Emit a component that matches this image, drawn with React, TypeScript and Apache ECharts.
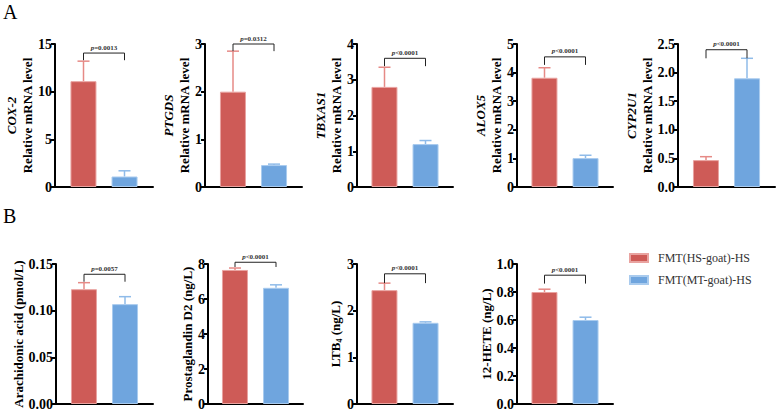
import React, { useEffect, useRef } from "react";
import * as echarts from "echarts";

const FONT = "'Liberation Serif', 'Times New Roman', serif";

const groups = ["FMT(HS-goat)-HS", "FMT(MT-goat)-HS"];

// Row A: relative mRNA levels
const genes = ["COX-2", "PTGDS", "TBXAS1", "ALOX5", "CYP2U1"];
const hsMeanA = [11.1, 2.0, 2.8, 3.82, 0.47];
const hsErrA = [2.1, 0.85, 0.55, 0.35, 0.06];
const mtMeanA = [1.1, 0.46, 1.2, 1.01, 1.9];
const mtErrA = [0.6, 0.02, 0.1, 0.1, 0.35];
const yMaxA = [15, 3, 4, 5, 2.5];
const yStepA = [5, 1, 1, 1, 0.5];
const yDecA = [0, 0, 0, 0, 1];
const pTextA = ["=0.0013", "=0.0312", "<0.0001", "<0.0001", "<0.0001"];
const bracketTopA = [14.05, 3.0, 3.6, 4.55, 2.4];
const bracketLegA = [13.3, 2.85, 3.38, 4.27, 2.25];

// Row B: metabolite concentrations
const metabolites = ["Arachidonic acid (pmol/L)", "Prostaglandin D2 (ng/L)", "LTB4 (ng/L)", "12-HETE (ng/L)"];
const hsMeanB = [0.123, 7.66, 2.44, 0.8];
const hsErrB = [0.007, 0.11, 0.15, 0.02];
const mtMeanB = [0.107, 6.64, 1.74, 0.6];
const mtErrB = [0.008, 0.17, 0.02, 0.02];
const yMaxB = [0.15, 8, 3, 1.0];
const yStepB = [0.05, 2, 1, 0.2];
const yDecB = [2, 0, 0, 1];
const pTextB = ["=0.0057", "<0.0001", "<0.0001", "<0.0001"];
const bracketTopB = [0.139, 8.1, 2.79, 0.92];
const bracketLegB = [0.131, 7.83, 2.59, 0.86];

const RED = "#CE5B57";
const BLUE = "#6FA5DE";
const RED_LIGHT = "#E68A86";
const BLUE_LIGHT = "#8FBBE9";
const OFFSET = 20.5;

export default function App() {
  const ref = useRef<HTMLDivElement>(null);

  useEffect(() => {
    if (!ref.current) return;
    const chart = echarts.init(ref.current, null, { renderer: "svg" });

    type Panel = {
      name: string;
      hs: number; hsErr: number; mt: number; mtErr: number;
      max: number; step: number; dec: number; p: string;
      bTop: number; bLeg: number;
      left: number; top: number; width: number; height: number; nameGap: number;
    };

    const panels: Panel[] = [];
    const leftA = [55, 205, 357, 517, 678];
    const widthA = [98, 97, 96, 96, 97];
    const gapA = [12, 6, 10, 12, 23];
    genes.forEach((g, i) => {
      panels.push({
        name: `{g|${g}}\n{n|Relative mRNA level}`,
        hs: hsMeanA[i], hsErr: hsErrA[i], mt: mtMeanA[i], mtErr: mtErrA[i],
        max: yMaxA[i], step: yStepA[i], dec: yDecA[i], p: pTextA[i],
        bTop: bracketTopA[i], bLeg: bracketLegA[i],
        left: leftA[i], top: 44, width: widthA[i], height: 143, nameGap: gapA[i],
      });
    });
    const leftB = [56, 208, 357, 517];
    const widthB = [97, 95, 96, 96];
    const gapB = [28, 10, 14, 22];
    metabolites.forEach((m, i) => {
      const nm = m.startsWith("LTB4")
        ? `{n|LTB}{sub|4}{n|${m.slice(4)}}`
        : `{n|${m}}`;
      panels.push({
        name: nm,
        hs: hsMeanB[i], hsErr: hsErrB[i], mt: mtMeanB[i], mtErr: mtErrB[i],
        max: yMaxB[i], step: yStepB[i], dec: yDecB[i], p: pTextB[i],
        bTop: bracketTopB[i], bLeg: bracketLegB[i],
        left: leftB[i], top: 264, width: widthB[i], height: 140, nameGap: gapB[i],
      });
    });

    const grid: any[] = [];
    const xAxis: any[] = [];
    const yAxis: any[] = [];
    const series: any[] = [];

    const errRender = (sign: number, color: string) => (params: any, api: any) => {
      const x = api.value(0);
      const m = api.value(1);
      const e = api.value(2);
      const p0 = api.coord([x, m]);
      const p1 = api.coord([x, m + e]);
      const cx = p0[0] + sign * OFFSET;
      return {
        type: "group",
        children: [
          { type: "line", shape: { x1: cx, y1: p0[1], x2: cx, y2: p1[1] }, style: { stroke: color, lineWidth: 1.5 } },
          { type: "line", shape: { x1: cx - 6, y1: p1[1], x2: cx + 6, y2: p1[1] }, style: { stroke: color, lineWidth: 1.5 } },
        ],
      };
    };

    panels.forEach((pn, i) => {
      grid.push({ left: pn.left, top: pn.top, width: pn.width, height: pn.height });
      xAxis.push({
        type: "category", gridIndex: i, data: [""],
        axisLine: { lineStyle: { color: "#000", width: 2 } },
        axisTick: { show: false }, axisLabel: { show: false },
      });
      yAxis.push({
        type: "value", gridIndex: i, min: 0, max: pn.max, interval: pn.step,
        splitLine: { show: false },
        axisLine: { show: true, lineStyle: { color: "#000", width: 2 } },
        axisTick: { show: true, length: 4, lineStyle: { color: "#000", width: 2 } },
        axisLabel: {
          margin: 3, color: "#000", fontFamily: FONT, fontWeight: "bold", fontSize: 14,
          formatter: (v: number) => v.toFixed(pn.dec),
        },
        name: pn.name, nameLocation: "middle", nameRotate: 90, nameGap: pn.nameGap,
        nameTextStyle: {
          fontFamily: FONT,
          rich: {
            g: { fontFamily: FONT, fontStyle: "italic", fontWeight: "bold", fontSize: 13, lineHeight: 16, color: "#000" },
            n: { fontFamily: FONT, fontWeight: "bold", fontSize: 13, lineHeight: 16, color: "#000" },
            sub: { fontFamily: FONT, fontWeight: "bold", fontSize: 8, lineHeight: 16, verticalAlign: "bottom", color: "#000" },
          },
        },
      });
      series.push({
        type: "bar", name: groups[0], xAxisIndex: i, yAxisIndex: i, data: [pn.hs],
        barWidth: 26, barGap: "58%",
        itemStyle: { color: RED, borderColor: "#E9A3A0", borderWidth: 1 },
      });
      series.push({
        type: "bar", name: groups[1], xAxisIndex: i, yAxisIndex: i, data: [pn.mt],
        barWidth: 26, barGap: "58%",
        itemStyle: { color: BLUE, borderColor: "#A9CBEE", borderWidth: 1 },
      });
      series.push({
        type: "custom", name: "errHS" + i, xAxisIndex: i, yAxisIndex: i,
        data: [[0, pn.hs, pn.hsErr]], renderItem: errRender(-1, RED_LIGHT), z: 1,
      });
      series.push({
        type: "custom", name: "errMT" + i, xAxisIndex: i, yAxisIndex: i,
        data: [[0, pn.mt, pn.mtErr]], renderItem: errRender(1, BLUE_LIGHT), z: 1,
      });
      series.push({
        type: "custom", name: "sig" + i, xAxisIndex: i, yAxisIndex: i,
        data: [[0, pn.bTop, pn.bLeg]],
        renderItem: (params: any, api: any) => {
          const x = api.value(0);
          const t = api.coord([x, api.value(1)]);
          const l = api.coord([x, api.value(2)]);
          const xl = t[0] - OFFSET;
          const xr = t[0] + OFFSET;
          return {
            type: "group",
            children: [
              {
                type: "polyline",
                shape: { points: [[xl, l[1]], [xl, t[1]], [xr, t[1]], [xr, l[1]]] },
                style: { stroke: "#222", lineWidth: 1, fill: "none" },
              },
              {
                type: "text",
                x: t[0], y: t[1] - 2,
                style: {
                  text: `{i|p}{t|${pn.p}}`,
                  align: "center", verticalAlign: "bottom",
                  rich: {
                    i: { fontFamily: FONT, fontStyle: "italic", fontWeight: "bold", fontSize: 7, fill: "#333" },
                    t: { fontFamily: FONT, fontWeight: "bold", fontSize: 7, fill: "#333" },
                  },
                },
              },
            ],
          };
        },
      });
    });

    chart.setOption({
      animation: false,
      backgroundColor: "#fff",
      grid, xAxis, yAxis, series,
      legend: {
        data: groups, orient: "vertical", left: 624, top: 247,
        icon: "rect", itemWidth: 18, itemHeight: 8, itemGap: 10,
        textStyle: { fontFamily: FONT, fontSize: 12, color: "#333", padding: [0, 0, 0, 5] },
        selectedMode: false,
      },
      graphic: [
        { type: "text", left: 3, top: 2, style: { text: "A", font: `20px ${FONT}`, fill: "#000" } },
        { type: "text", left: 3, top: 206, style: { text: "B", font: `20px ${FONT}`, fill: "#000" } },
      ],
    });

    return () => chart.dispose();
  }, []);

  return (
    <div
      ref={ref}
      style={{ position: "fixed", left: 0, top: 0, width: 777, height: 412, background: "#fff" }}
    />
  );
}
